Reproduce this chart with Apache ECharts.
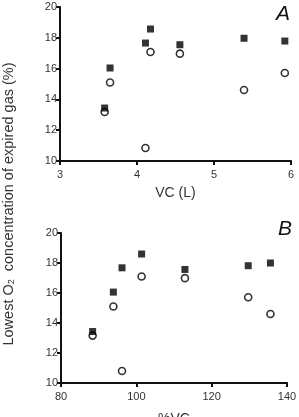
<!DOCTYPE html>
<html>
<head>
<meta charset="utf-8">
<script src="https://cdn.jsdelivr.net/npm/echarts@6/dist/echarts.min.js"></script>
<style>
  html, body { margin: 0; padding: 0; background: #fff; }
  #chart { width: 299px; height: 417px; }
</style>
</head>
<body>
<div id="chart"></div>
<script>
// panel A: VC in litres
var vcLitres = [3.58, 3.65, 4.11, 4.175, 4.557, 5.39, 5.92];
// panel B: %VC
var vcPercent = [88.4, 93.9, 96.2, 101.4, 112.9, 129.7, 135.6];
// filled squares, panel A order
var squaresA = [13.44, 16.04, 17.66, 18.57, 17.55, 17.97, 17.79];
// open circles, panel A order
var circlesA = [13.18, 15.10, 10.84, 17.08, 16.97, 14.61, 15.71];
// panel B values (in %VC order)
var squaresB = [13.43, 16.06, 17.68, 18.6, 17.57, 17.82, 18.0];
var circlesB = [13.16, 15.1, 10.8, 17.1, 16.99, 15.72, 14.6];

function pairs(xs, ys) {
  var out = [];
  for (var i = 0; i < xs.length; i++) {
    out.push([xs[i], ys[i]]);
  }
  return out;
}

var axisFont = {fontFamily: 'Liberation Sans', fontSize: 11, color: '#333'};
var lineStyle = {color: '#111', width: 2};

function xAxisOf(idx, min, max, interval, name, gap) {
  return {
    gridIndex: idx, type: 'value', min: min, max: max, interval: interval,
    name: name, nameLocation: 'middle', nameGap: gap,
    nameTextStyle: {fontFamily: 'Liberation Sans', fontSize: 14, color: '#333'},
    axisLine: {show: true, lineStyle: lineStyle},
    axisTick: {show: true, length: 4, lineStyle: lineStyle},
    axisLabel: axisFont,
    splitLine: {show: false}
  };
}
function yAxisOf(idx) {
  return {
    gridIndex: idx, type: 'value', min: 10, max: 20, interval: 2,
    axisLine: {show: true, lineStyle: lineStyle},
    axisTick: {show: true, length: 4, lineStyle: lineStyle},
    axisLabel: Object.assign({margin: 3}, axisFont),
    splitLine: {show: false}
  };
}

var squareSym = {type: 'scatter', symbol: 'rect', symbolSize: 7,
  itemStyle: {color: '#000'}};
var circleSym = {type: 'scatter', symbol: 'circle', symbolSize: 7,
  itemStyle: {color: '#fff', borderColor: '#000', borderWidth: 1.6}};

var myChart = echarts.init(document.getElementById('chart'));
myChart.setOption({
  animation: false,
  grid: [
    {left: 60, right: 8, top: 7, bottom: 256, outerBoundsMode: 'none'},
    {left: 61, right: 12, top: 233, bottom: 34, outerBoundsMode: 'none'}
  ],
  xAxis: [
    xAxisOf(0, 3, 6, 1, 'VC (L)', 25),
    xAxisOf(1, 80, 140, 20, '%VC', 29)
  ],
  yAxis: [yAxisOf(0), yAxisOf(1)],
  series: [
    Object.assign({xAxisIndex: 0, yAxisIndex: 0, data: pairs(vcLitres, circlesA)}, circleSym),
    Object.assign({xAxisIndex: 0, yAxisIndex: 0, data: pairs(vcLitres, squaresA)}, squareSym),
    Object.assign({xAxisIndex: 1, yAxisIndex: 1, data: pairs(vcPercent, circlesB)}, circleSym),
    Object.assign({xAxisIndex: 1, yAxisIndex: 1, data: pairs(vcPercent, squaresB)}, squareSym)
  ],
  graphic: [
    {
      type: 'text', x: 9, y: 204, rotation: Math.PI / 2,
      style: {
        text: 'Lowest O{sub|2}  concentration of expired gas (%)',
        align: 'center', verticalAlign: 'middle',
        fontFamily: 'Liberation Sans', fontSize: 14.5, fill: '#333',
        rich: {
          sub: {fontFamily: 'Liberation Sans', fontSize: 9, fill: '#333',
            verticalAlign: 'bottom', lineHeight: 9, padding: [6, 0, 0, 0]}
        }
      }
    },
    {
      type: 'text', x: 283, y: 14,
      style: {text: 'A', align: 'center', verticalAlign: 'middle',
        fontFamily: 'Liberation Sans', fontStyle: 'italic', fontSize: 21, fill: '#111'}
    },
    {
      type: 'text', x: 285, y: 229,
      style: {text: 'B', align: 'center', verticalAlign: 'middle',
        fontFamily: 'Liberation Sans', fontStyle: 'italic', fontSize: 21, fill: '#111'}
    }
  ]
});
</script>
</body>
</html>
